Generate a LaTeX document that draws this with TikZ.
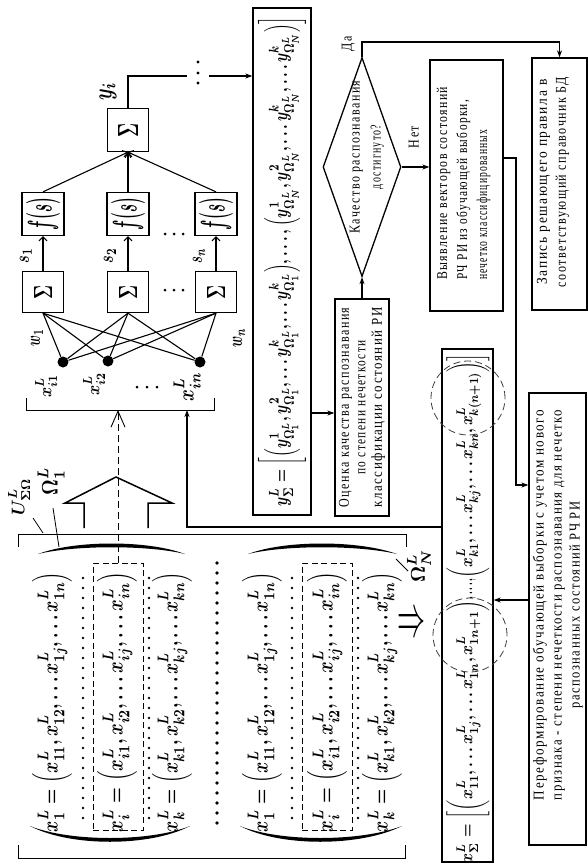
\documentclass[tikz,border=0pt]{standalone}
\usepackage{fontspec}
\usepackage{graphicx}
\usetikzlibrary{arrows.meta,shapes.geometric}
\newfontfamily\rf[LetterSpace=12]{Liberation Serif}
\newcommand{\rtm}[3]{\rotatebox{90}{\resizebox*{#1}{#2}{\boldmath$\displaystyle #3$}}}
\newcommand{\rtb}[3]{\rotatebox{90}{\scalebox{1}[1.25]{\fontsize{12}{#1}\selectfont\rf\begin{tabular}{@{}#2@{}}#3\end{tabular}}}}
\newcommand{\fitline}[2]{\resizebox{#1}{\height}{#2}}
\begin{document}
\begin{tikzpicture}[x=1pt,y=-1pt,
  box/.style={draw, line width=1.3pt, inner sep=0pt},
  arr/.style={line width=1.1pt, -{Stealth[length=7pt,width=5pt]}},
  narr/.style={line width=1.1pt, -{Straight Barb[length=4pt,width=8pt]}},
  ln/.style={line width=1.1pt},
  thn/.style={line width=0.8pt},
  dotcol/.style={line width=2.6pt, line cap=round, dash pattern=on 0pt off 10pt},
  bigdot/.style={line width=3.6pt, line cap=round, dash pattern=on 0pt off 10pt},
  drect/.style={draw, line width=0.9pt, dash pattern=on 6pt off 3.5pt, inner sep=0pt},
  dcirc/.style={draw=black!75, circle, line width=0.8pt, dash pattern=on 7pt off 4pt, minimum size=74pt, inner sep=0pt},
  txt/.style={inner sep=0pt},
  ]
\useasboundingbox (0,0) rectangle (587,867);
\fill[white] (0,0) rectangle (587,867);

% ---------------- neural net ----------------
\node[box, minimum width=41pt, minimum height=43pt] (sT) at (128,130) {\rtm{14pt}{20pt}{\Sigma}};
\node[box, minimum width=42pt, minimum height=43pt] (f1) at (43,214) {\rtm{32pt}{34pt}{f(s)}};
\node[box, minimum width=42pt, minimum height=43pt] (f2) at (128,214) {\rtm{32pt}{34pt}{f(s)}};
\node[box, minimum width=42pt, minimum height=43pt] (f3) at (216,214) {\rtm{32pt}{34pt}{f(s)}};
\node[box, minimum width=41pt, minimum height=41pt] (s1) at (43,292) {\rtm{14pt}{18pt}{\Sigma}};
\node[box, minimum width=41pt, minimum height=41pt] (s2) at (128,292) {\rtm{14pt}{18pt}{\Sigma}};
\node[box, minimum width=41pt, minimum height=41pt] (s3) at (216,292) {\rtm{14pt}{18pt}{\Sigma}};
\node[circle, fill, inner sep=0pt, minimum size=11pt] (d1) at (63,362) {};
\node[circle, fill, inner sep=0pt, minimum size=11pt] (d2) at (108,361) {};
\node[circle, fill, inner sep=0pt, minimum size=11pt] (d3) at (200,362) {};
\foreach \s in {s1,s2,s3}{\foreach \d in {d1,d2,d3}{\draw[ln] (\s.south) -- (\d);}}
\draw[narr] (s1) -- (f1);
\draw[narr] (s2) -- (f2);
\draw[narr] (s3) -- (f3);
\draw[narr] (f1.north) -- (sT.south);
\draw[narr] (f2.north) -- (sT.south);
\draw[narr] (f3.north) -- (sT.south);

\node[txt] (yi) at (108,91) {\rtm{18pt}{17pt}{y_i}};
\node[txt] (ls1) at (26,256) {\rtm{15pt}{12pt}{s_1}};
\node[txt] (ls2) at (110,256) {\rtm{15pt}{12pt}{s_2}};
\node[txt] (lsn) at (199,256) {\rtm{15pt}{12pt}{s_n}};
\node[txt] (lw1) at (37,338) {\rtm{17pt}{12pt}{w_1}};
\node[txt] (lwn) at (239,338) {\rtm{19pt}{12pt}{w_n}};
\node[txt] (lx1) at (46,386) {\rtm{23pt}{22pt}{x_{i1}^L}};
\node[txt] (lx2) at (94,384) {\rtm{23pt}{22pt}{x_{i2}^L}};
\node[txt] (lxn) at (187,387) {\rtm{29pt}{27pt}{x_{in}^L}};
\foreach \p in {165,174,183}{\fill (\p,234) circle (1.5pt); \fill (\p,290) circle (1.5pt);}
\foreach \p in {137,147,157}{\fill (\p,387) circle (1.5pt);}

% output of y_i
\coordinate (yk1) at (187,76);
\coordinate (yk2) at (209,76);
\draw[ln] (sT.north) |- (yk1);
\foreach \p in {62,73,83}{\fill (198,\p) circle (1.6pt);}

% y_Sigma box
\node[box, minimum width=58pt, minimum height=507pt] (ys) at (282,261.5) {\rtm{490pt}{48pt}{y_\Sigma^L=\bigg[\Big(y^1_{\Omega_1^L}, y^2_{\Omega_1^L},\ldots y^k_{\Omega_1^L},\ldots y^k_{\Omega_1^L}\Big),\ldots,\Big(y^1_{\Omega_N^L}, y^2_{\Omega_N^L},\ldots y^k_{\Omega_N^L},\ldots y^k_{\Omega_N^L}\Big)\bigg]}};
\draw[arr] (yk2) -- (yk2 -| ys.west);

% bracket under inputs
\coordinate (bl) at (26,410);
\coordinate (br) at (214,410);
\draw[thn] (26,398) -- (bl) -- (br) -- (214,398);

% ---------------- matrices ----------------
\node[drect, minimum width=50pt, minimum height=267pt] (r1) at (118,696.5) {};
\node[drect, minimum width=50pt, minimum height=267pt] (r2) at (327,696.5) {};
\node[txt] (m1a) at (52,702) {\rtm{260pt}{40pt}{x_1^L=\Big(x_{11}^L, x_{12}^L,\ldots x_{1j}^L,\ldots x_{1n}^L\Big)}};
\node[txt] (m1b) at (117,702) {\rtm{260pt}{40pt}{x_i^L=\Big(x_{i1}^L, x_{i2}^L,\ldots x_{ij}^L,\ldots x_{in}^L\Big)}};
\node[txt] (m1c) at (172,702) {\rtm{260pt}{40pt}{x_k^L=\Big(x_{k1}^L, x_{k2}^L,\ldots x_{kj}^L,\ldots x_{kn}^L\Big)}};
\node[txt] (m2a) at (262,702) {\rtm{260pt}{40pt}{x_1^L=\Big(x_{11}^L, x_{12}^L,\ldots x_{1j}^L,\ldots x_{1n}^L\Big)}};
\node[txt] (m2b) at (327,702) {\rtm{260pt}{40pt}{x_i^L=\Big(x_{i1}^L, x_{i2}^L,\ldots x_{ij}^L,\ldots x_{in}^L\Big)}};
\node[txt] (m2c) at (382,702) {\rtm{260pt}{40pt}{x_k^L=\Big(x_{k1}^L, x_{k2}^L,\ldots x_{kj}^L,\ldots x_{kn}^L\Big)}};
\draw[dotcol] (83,578) -- (83,828);
\draw[dotcol] (149,578) -- (149,828);
\draw[dotcol] (292,578) -- (292,828);
\draw[dotcol] (358,578) -- (358,828);
\draw[bigdot] (217,563) -- (217,833);
% big parentheses
\fill (38,554) .. controls (75,540) and (148,540) .. (185,554) .. controls (148,545) and (75,545) .. cycle;
\fill (30,826) .. controls (70,847) and (150,847) .. (190,826) .. controls (150,842) and (70,842) .. cycle;
\fill (248,554) .. controls (285,540) and (358,540) .. (397,554) .. controls (358,545) and (285,545) .. cycle;
\fill (240,826) .. controls (280,847) and (360,847) .. (402,826) .. controls (360,842) and (280,842) .. cycle;

% set brackets and labels
\draw[thn] (18,547) -- (18,534) -- (406,534) -- (406,547);
\draw[thn] (18,845) -- (18,858) -- (405,858) -- (405,845);
\node[txt] (lU) at (19,497) {\rtm{37pt}{22pt}{U_{\Sigma\Omega}^L}};
\node[txt] (lO1) at (51,481) {\rtm{28pt}{27pt}{\Omega_1^L}};
\node[txt] (lON) at (419,566) {\rtm{33pt}{24pt}{\Omega_N^L}};
\draw[thn] (33,518) -- (43,533);
\draw[thn] (53,508) -- (59,547);
\draw[thn] (396,559) -- (408,571);

% hollow block arrow
\draw[line width=1.5pt] (84,528) -- (84,503) -- (65,503) -- (116,477) -- (172,503) -- (148,503) -- (148,528);
% dashed arrow from selected row to inputs
\draw[line width=0.9pt, dash pattern=on 7pt off 4pt, -{Straight Barb[length=16pt,width=14pt]}] (r1.north) -- (r1.north |- bl);

% implication arrow
\node[txt] (impl) at (411,625) {\resizebox{28pt}{22pt}{$\Rightarrow$}};

% ---------------- x_Sigma box ----------------
\node[box, minimum width=51pt, minimum height=513pt] (xs) at (467.5,605.5) {};
\node[txt] (xsA) at (468,731.5) {\rtm{263pt}{43pt}{x_\Sigma^L=\bigg[\bigg(x_{11}^L,\ldots x_{1j}^L,\ldots x_{1n}^L, x_{1n+1}^L\bigg)}};
\node[txt] (xsB) at (468,588) {\rtm{22pt}{43pt}{,\ldots,\vphantom{\bigg[}}};
\node[txt] (xsC) at (468,466) {\rtm{225pt}{43pt}{\bigg(x_{k1}^L,\ldots x_{kj}^L,\ldots x_{kn}^L, x_{k(n+1)}^L\bigg)\bigg]}};
\node[dcirc] (cA) at (470,635) {};
\node[dcirc] (cB) at (468,398) {};
\coordinate (j1) at (187,527);
\draw[arr] (xs.west |- j1) -- (j1) -- (j1 |- bl);

% ---------------- flow chart ----------------
\node[box, minimum width=54pt, minimum height=217pt] (oc) at (362,407.5) {\rtb{13.2pt}{c}{\fitline{200pt}{Оценка качества распознавания}\\\fitline{134pt}{по степени нечеткости}\\\fitline{200pt}{классификации состояний РИ}}};
\node[draw, diamond, line width=1.3pt, minimum width=78pt, minimum height=219pt, inner sep=0pt] (dia) at (362,167) {};
\node[txt] (diaT) at (366,157) {\rtb{16.8pt}{c}{\fitline{153pt}{Качество распознавания}\\\fitline{64pt}{достигнуто?}}};
\node[txt] (da) at (348,44) {\rtb{14pt}{c}{Да}};
\node[txt] (net) at (415,137) {\rtb{14pt}{c}{Нет}};

\node[box, minimum width=73pt, minimum height=251pt] (vy) at (466.5,185.5) {};
\node[txt, anchor=south] (vyT) at (463,280) {\rtb{16pt}{l}{\fitline{193pt}{Выявление векторов состояний}\\\fitline{180pt}{РЧ РИ из обучающей выборки,}\\\fitline{150pt}{нечетко классифицированных}}};

\node[box, minimum width=55pt, minimum height=252pt] (zp) at (559.5,184) {};
\node[txt] (zpT) at (552.5,182) {\rtb{15.2pt}{c}{\fitline{205pt}{Запись решающего правила в}\\\fitline{210pt}{соответствующий справочник БД}}};

\node[box, minimum width=57pt, minimum height=452pt] (pr) at (557.5,619) {};
\node[txt] (prT) at (558,605) {\rtb{14.4pt}{c}{\fitline{390pt}{Переформирование обучающей выборки с учетом нового}\\\fitline{390pt}{признака - степени нечеткости распознавания для нечетко}\\\fitline{207pt}{распознанных состояний РЧ РИ}}};

\coordinate (ya) at (0,413);
\draw[arr] (ys.east |- ya) -- (oc.west |- ya);
\draw[arr] (oc.north) -- (dia.south);
\coordinate (topl) at (0,42);
\draw[arr] (dia.north) -- (dia.north |- topl) -| (zp.north);
\draw[arr] (dia.east) -- (dia.east -| vy.west);
\coordinate (v1) at (516,158);
\coordinate (v2) at (516,485);
\draw[arr] (vy.east |- v1) -- (v1) -- (v2) -- (v2 -| pr.west);
\coordinate (v3) at (0,600);
\draw[arr] (pr.west |- v3) -- (xs.east |- v3);
\end{tikzpicture}
\end{document}
